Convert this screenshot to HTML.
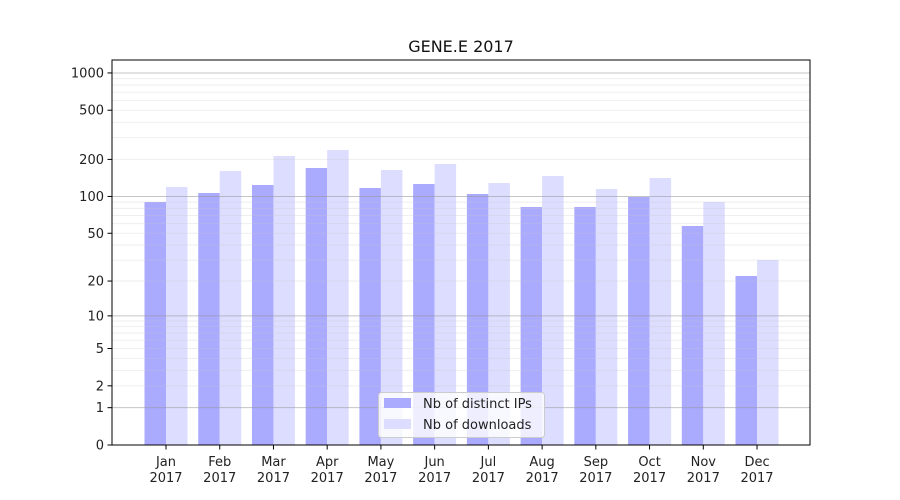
<!DOCTYPE html>
<html><head><style>body{margin:0;background:#fff}svg{display:block;font-family:"DejaVu Sans","Liberation Sans",sans-serif}</style></head>
<body>
<svg id="s" width="900" height="500" xmlns="http://www.w3.org/2000/svg">
<rect width="900" height="500" fill="#fff"/>
<g id="bars"></g>
<g id="grid"></g>
<rect x="112" y="60" width="698" height="385" fill="none" stroke="#000" stroke-width="1"/>
<g id="ticks" font-size="13" fill="#222"></g>
<text x="461" y="52" text-anchor="middle" font-size="16" fill="#111">GENE.E 2017</text>
<g>
<rect x="378.5" y="392.5" width="166" height="45" rx="3" fill="#fff" fill-opacity="0.8" stroke="#ccc"/>
<rect x="384" y="398" width="27" height="10" fill="#aaaaff"/>
<rect x="384" y="419" width="27" height="10" fill="#ddddff"/>
<text x="423" y="408" font-size="13" fill="#222">Nb of distinct IPs</text>
<text x="423" y="429" font-size="13" fill="#222">Nb of downloads</text>
</g>
</svg>
<script>
var ns="http://www.w3.org/2000/svg";
function el(p,t,a,txt){var e=document.createElementNS(ns,t);for(var k in a)e.setAttribute(k,a[k]);if(txt!=null)e.textContent=txt;document.getElementById(p).appendChild(e);}
function Y(v){return 445-124*Math.log10(1+v);}
var ip=[202,193,185,168,188,184,194,207,207,197,226,276];
var dl=[187,171,156,150,170,164,183,176,189,178,202,260];
var m=["Jan","Feb","Mar","Apr","May","Jun","Jul","Aug","Sep","Oct","Nov","Dec"];
for(var i=0;i<12;i++){var c=166+i*53.73;
el("bars","rect",{x:c-21.5,y:ip[i],width:21.5,height:445-ip[i],fill:"#aaaaff"});
el("bars","rect",{x:c,y:dl[i],width:21.5,height:445-dl[i],fill:"#ddddff"});
el("ticks","line",{x1:c,x2:c,y1:445,y2:449.5,stroke:"#000"});
el("ticks","text",{x:c,y:466,"text-anchor":"middle"},m[i]);
el("ticks","text",{x:c,y:482,"text-anchor":"middle"},"2017");}
[1,10,100].forEach(function(d){for(var k=2;k<10;k++){var y=Y(k*d);el("grid","line",{x1:112,x2:810,y1:y,y2:y,stroke:"rgba(200,200,200,0.3)"});}});
[1,10,100,1000].forEach(function(v){var y=Y(v);el("grid","line",{x1:112,x2:810,y1:y,y2:y,stroke:"rgba(150,150,150,0.55)"});});
[0,1,2,5,10,20,50,100,200,500,1000].forEach(function(v){var y=Y(v);el("ticks","line",{x1:107.5,x2:112,y1:y,y2:y,stroke:"#000"});el("ticks","text",{x:104,y:y+4.5,"text-anchor":"end"},String(v));});
</script>
</body></html>
